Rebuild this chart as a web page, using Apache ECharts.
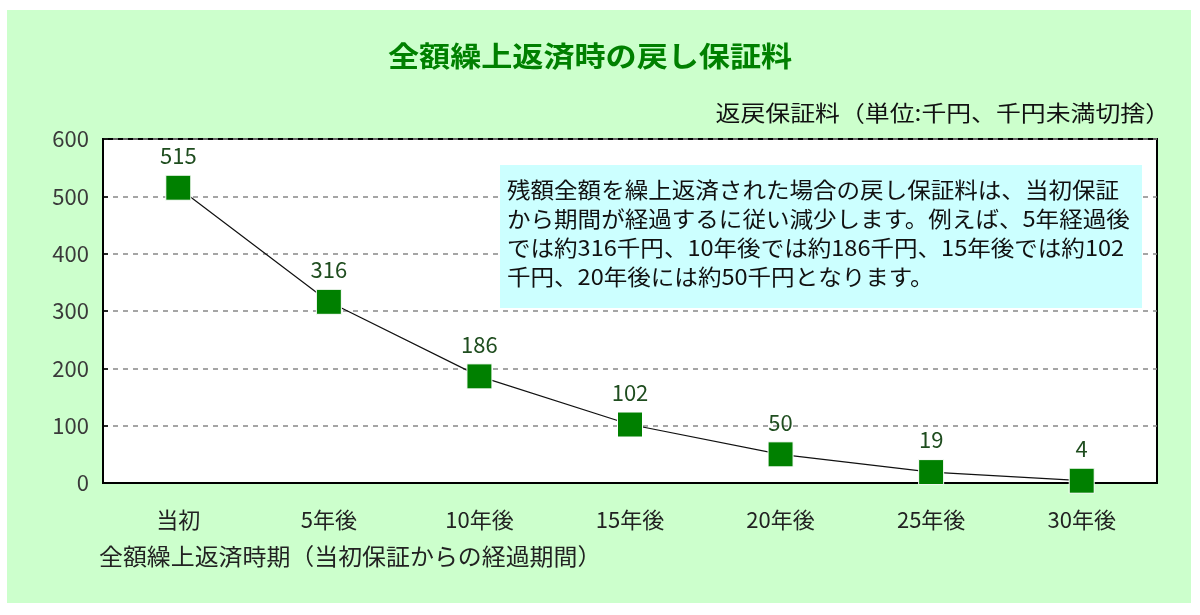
<!DOCTYPE html>
<html>
<head>
<meta charset="utf-8">
<script src="https://cdn.jsdelivr.net/npm/echarts@6/dist/echarts.min.js"></script>
<style>
  html, body { margin: 0; padding: 0; background: #fff; }
  #bg { position: absolute; left: 7px; top: 10px; width: 1184px; height: 593px; background: #ccffcc; }
  #chart { position: absolute; left: 0; top: 0; width: 1200px; height: 615px; }
</style>
</head>
<body>
<div id="bg"></div>
<div id="chart"></div>
<script>
// 全額繰上返済時の戻し保証料（千円）
const categories = ["当初", "5年後", "10年後", "15年後", "20年後", "25年後", "30年後"];
const refundValues = [515, 316, 186, 102, 50, 19, 4];
const yTicks = { min: 0, max: 600, interval: 100 };

const FONT = '"Noto Sans CJK JP", "Noto Sans", sans-serif';

const noteText = [
  "残額全額を繰上返済された場合の戻し保証料は、当初保証",
  "から期間が経過するに従い減少します。例えば、5年経過後",
  "では約316千円、10年後では約186千円、15年後では約102",
  "千円、20年後には約50千円となります。"
].join("\n");

// 元の図は MS Pゴシック風で字幅が広いので、横方向に少し引き伸ばす
function label(x, y, text, font, fill, sx, align) {
  return {
    type: "text", x: x, y: y, scaleX: sx, z: 10,
    style: { text: text, font: font, fill: fill, align: align || "left", verticalAlign: "middle" }
  };
}

const chart = echarts.init(document.getElementById("chart"), null, { renderer: "canvas" });

chart.setOption({
  backgroundColor: "transparent",
  animation: false,
  textStyle: { fontFamily: FONT },
  graphic: [
    label(388, 56, "全額繰上返済時の戻し保証料", "bold 28px " + FONT, "#008000", 1.11),
    label(1170, 113, "返戻保証料（単位:千円、千円未満切捨）", "22px " + FONT, "#111", 1.13, "right"),
    {
      type: "rect", x: 500, y: 165, z: 9,
      shape: { x: 0, y: 0, width: 642, height: 143 },
      style: { fill: "#ccffff" }
    },
    {
      type: "text", x: 507, y: 175, scaleX: 1.07, z: 10,
      style: { text: noteText, font: "22px " + FONT, fill: "#111", lineHeight: 29, verticalAlign: "top" }
    },
    label(99, 556, "全額繰上返済時期（当初保証からの経過期間）", "23px " + FONT, "#222", 1.04)
  ],
  grid: {
    left: 103, right: 43, top: 139, bottom: 132,
    show: true, backgroundColor: "#fff", borderColor: "#000", borderWidth: 2
  },
  xAxis: {
    type: "category",
    data: categories,
    boundaryGap: true,
    axisLine: { lineStyle: { color: "#000", width: 2 } },
    axisTick: { inside: true, length: 6, lineStyle: { color: "#000", width: 1.5 } },
    axisLabel: { fontSize: 22, color: "#222", margin: 26, fontFamily: FONT }
  },
  yAxis: {
    type: "value",
    min: yTicks.min, max: yTicks.max, interval: yTicks.interval,
    axisLine: { show: true, lineStyle: { color: "#000", width: 2 } },
    axisTick: { show: true, inside: true, length: 5, lineStyle: { color: "#000", width: 1.5 } },
    axisLabel: { fontSize: 22, color: "#3a3a3a", margin: 14, fontFamily: FONT },
    splitLine: { lineStyle: { color: "#888", width: 1.5, type: [5, 5] } }
  },
  series: [{
    type: "line",
    data: refundValues,
    symbol: "rect",
    symbolSize: 25,
    itemStyle: { color: "#008000", borderColor: "#fff", borderWidth: 1 },
    lineStyle: { color: "#111", width: 1.2 },
    label: {
      show: true, position: "top", distance: 8,
      fontSize: 22, color: "#1f4d1f", fontFamily: FONT
    },
    z: 3
  }]
});
</script>
</body>
</html>
